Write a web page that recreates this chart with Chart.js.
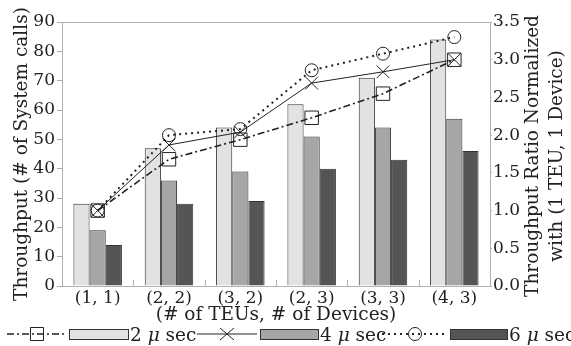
<!DOCTYPE html>
<html>
<head>
<meta charset="utf-8">
<script src="https://cdn.jsdelivr.net/npm/chart.js@4"></script>
<style>
  body { margin: 0; background: #fff; }
  #wrap { width: 571px; height: 346px; position: relative; }
</style>
</head>
<body>
<div id="wrap"><canvas id="chart"></canvas></div>
<script>
const categories = ['(1, 1)', '(2, 2)', '(3, 2)', '(2, 3)', '(3, 3)', '(4, 3)'];
const bar2us = [28, 47, 54, 62, 71, 84];
const bar4us = [19, 36, 39, 51, 54, 57];
const bar6us = [14, 28, 29, 40, 43, 46];
const ratio2us = [1.0, 1.68, 1.94, 2.23, 2.55, 3.0];
const ratio4us = [1.0, 1.87, 2.04, 2.69, 2.84, 3.0];
const ratio6us = [1.0, 2.0, 2.08, 2.86, 3.08, 3.3];
const leftTicks = [0, 90, 10];
const rightTicks = [0, 3.5, 0.5];

const FONT = 'DejaVu Serif';
const INK = '#222';
const LIGHT = '#e2e2e2';
const MID = '#a6a6a6';
const DARK = '#555555';
const FRAME = '#b0b0b0';
const TITLE_SIZE = 18.5;

const DASHDOT = [7, 3, 2, 3];
const DOTTED = [2, 4];

function drawMarker(ctx, style, x, y) {
  ctx.save();
  ctx.setLineDash([]);
  ctx.strokeStyle = INK;
  ctx.lineWidth = 1;
  ctx.beginPath();
  if (style === 'rect') {
    ctx.rect(x - 6.5, y - 6.5, 13, 13);
  } else if (style === 'circle') {
    ctx.arc(x, y, 6.5, 0, Math.PI * 2);
  } else {
    ctx.moveTo(x - 7, y - 6); ctx.lineTo(x + 7, y + 6);
    ctx.moveTo(x - 7, y + 6); ctx.lineTo(x + 7, y - 6);
  }
  ctx.stroke();
  ctx.restore();
}

// frame, inner x ticks, right title and legend
const extras = {
  id: 'extras',
  afterDraw(chart) {
    const ctx = chart.ctx;
    const area = chart.chartArea;
    const x = chart.scales.x;

    ctx.save();
    ctx.strokeStyle = FRAME;
    ctx.lineWidth = 1;
    ctx.beginPath();
    ctx.moveTo(area.left, area.top + 0.5);
    ctx.lineTo(area.right, area.top + 0.5);
    for (let i = 1; i < categories.length; i++) {
      const bx = Math.round((x.getPixelForTick(i - 1) + x.getPixelForTick(i)) / 2) + 0.5;
      ctx.moveTo(bx, area.bottom);
      ctx.lineTo(bx, area.bottom - 6);
    }
    ctx.stroke();

    // right axis title, reading bottom to top
    ctx.fillStyle = INK;
    ctx.font = TITLE_SIZE + 'px "' + FONT + '"';
    ctx.textAlign = 'center';
    ctx.textBaseline = 'middle';
    const cy = (area.top + area.bottom) / 2 + 2;
    [['Throughput Ratio Normalized', 533], ['with (1 TEU, 1 Device)', 557]].forEach(([t, tx]) => {
      ctx.save();
      ctx.translate(tx, cy);
      ctx.rotate(-Math.PI / 2);
      ctx.fillText(t, 0, 0);
      ctx.restore();
    });

    // legend
    const ly = 334;
    const items = [
      { dash: DASHDOT, width: 1.6, marker: 'rect', x0: 7, x1: 67, box: [69, 128], fill: LIGHT, num: '2', tx: 130 },
      { dash: [], width: 1, marker: 'cross', x0: 197, x1: 257, box: [260, 318], fill: MID, num: '4', tx: 320 },
      { dash: DOTTED, width: 2, marker: 'circle', x0: 382, x1: 448, box: [450, 507], fill: DARK, num: '6', tx: 509 },
    ];
    items.forEach(it => {
      ctx.save();
      ctx.strokeStyle = INK;
      ctx.lineWidth = it.width;
      ctx.setLineDash(it.dash);
      ctx.beginPath();
      ctx.moveTo(it.x0, ly);
      ctx.lineTo(it.x1, ly);
      ctx.stroke();
      ctx.restore();
      drawMarker(ctx, it.marker, (it.x0 + it.x1) / 2, ly);

      ctx.fillStyle = it.fill;
      ctx.fillRect(it.box[0], ly - 5, it.box[1] - it.box[0], 10);
      ctx.strokeStyle = '#333';
      ctx.lineWidth = 1;
      ctx.strokeRect(it.box[0] + 0.5, ly - 4.5, it.box[1] - it.box[0], 10);

      ctx.fillStyle = INK;
      ctx.textAlign = 'left';
      ctx.textBaseline = 'alphabetic';
      let cx = it.tx;
      ctx.font = TITLE_SIZE + 'px "' + FONT + '"';
      ctx.fillText(it.num + ' ', cx, ly + 7);
      cx += ctx.measureText(it.num + ' ').width;
      ctx.font = 'italic ' + TITLE_SIZE + 'px "' + FONT + '"';
      ctx.fillText('\u03bc', cx, ly + 7);
      cx += ctx.measureText('\u03bc').width;
      ctx.font = TITLE_SIZE + 'px "' + FONT + '"';
      ctx.fillText(' sec', cx, ly + 7);
    });
    ctx.restore();
  }
};

const tickFont = { family: FONT, size: 17 };

new Chart(document.getElementById('chart'), {
  data: {
    labels: categories,
    datasets: [
      { type: 'line', label: '2 us ratio', data: ratio2us, yAxisID: 'y1', order: 0,
        borderColor: INK, borderWidth: 1.6, borderDash: DASHDOT, pointStyle: 'rect', pointRadius: 9.5,
        pointBorderColor: INK, pointBackgroundColor: 'rgba(0,0,0,0)', pointBorderWidth: 1 },
      { type: 'line', label: '4 us ratio', data: ratio4us, yAxisID: 'y1', order: 0,
        borderColor: INK, borderWidth: 1, pointStyle: 'crossRot', pointRadius: 9,
        pointBorderColor: INK, pointBorderWidth: 1 },
      { type: 'line', label: '6 us ratio', data: ratio6us, yAxisID: 'y1', order: 0,
        borderColor: INK, borderWidth: 2, borderDash: DOTTED, pointStyle: 'circle', pointRadius: 6.5,
        pointBorderColor: INK, pointBackgroundColor: 'rgba(0,0,0,0)', pointBorderWidth: 1 },
      { type: 'bar', label: '2 us', data: bar2us, yAxisID: 'y', order: 1,
        backgroundColor: LIGHT, borderColor: '#333', borderWidth: 1 },
      { type: 'bar', label: '4 us', data: bar4us, yAxisID: 'y', order: 1,
        backgroundColor: MID, borderColor: '#333', borderWidth: 1 },
      { type: 'bar', label: '6 us', data: bar6us, yAxisID: 'y', order: 1,
        backgroundColor: DARK, borderColor: '#333', borderWidth: 1 },
    ]
  },
  options: {
    responsive: true,
    maintainAspectRatio: false,
    animation: false,
    layout: { padding: { top: 22, bottom: 22, left: 0, right: 0 } },
    datasets: { bar: { categoryPercentage: 0.68, barPercentage: 1.0 } },
    plugins: { legend: { display: false }, tooltip: { enabled: false } },
    scales: {
      x: {
        offset: true,
        grid: { drawOnChartArea: false, drawTicks: false },
        border: { color: FRAME },
        ticks: { font: tickFont, color: INK, padding: 2, maxRotation: 0 },
        title: { display: true, text: '(# of TEUs, # of Devices)', font: { family: FONT, size: TITLE_SIZE, lineHeight: 1 }, color: INK, padding: 0 },
        afterFit(s) { s.height = 38; }
      },
      y: {
        position: 'left',
        min: leftTicks[0], max: leftTicks[1],
        ticks: { stepSize: leftTicks[2], font: tickFont, color: INK, padding: 2 },
        grid: { drawOnChartArea: false, tickLength: 5, color: FRAME },
        border: { color: FRAME },
        title: { display: true, text: 'Throughput (# of System calls)', font: { family: FONT, size: TITLE_SIZE }, color: INK, padding: { top: 11, bottom: 0 } },
        afterFit(s) { s.width = 62; }
      },
      y1: {
        position: 'right',
        min: rightTicks[0], max: rightTicks[1],
        ticks: { stepSize: rightTicks[2], font: tickFont, color: INK, padding: 1, callback: v => v.toFixed(1) },
        grid: { drawOnChartArea: false, tickLength: 2, color: FRAME },
        border: { color: FRAME },
        afterFit(s) { s.width = 81; }
      }
    }
  },
  plugins: [extras]
});
</script>
</body>
</html>
